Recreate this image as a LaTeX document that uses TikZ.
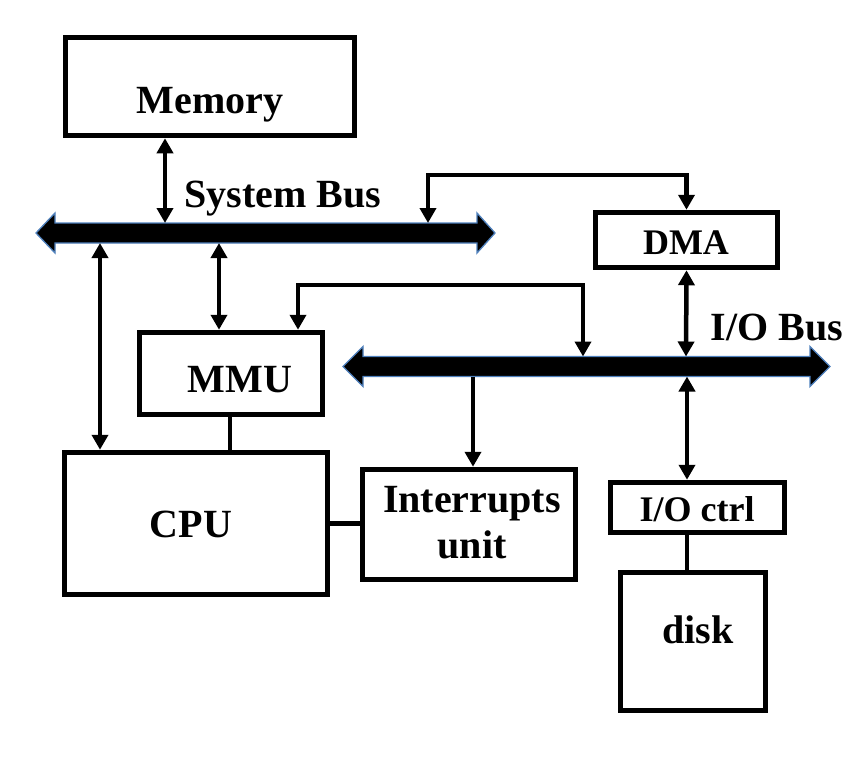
\documentclass[tikz,border=0pt]{standalone}
\usepackage{fontspec}
\setmainfont{Liberation Serif}
\usepackage{tikz}
\usetikzlibrary{arrows.meta,calc}
\definecolor{busedge}{HTML}{4F81BD}

\begin{document}
\begin{tikzpicture}[x=1pt,y=-1pt,
    box/.style={draw,line width=5.5pt,inner sep=0},
    lbl/.style={font=\fontsize{40}{44}\selectfont\bfseries,anchor=base,inner sep=0},
    small/.style={font=\fontsize{36}{40}\selectfont\bfseries,anchor=base,inner sep=0},
    link/.style={line width=4.5pt},
    onearrow/.style={link,-{Triangle[width=16pt,length=15pt]}},
    biarrow/.style={link,{Triangle[width=16pt,length=15pt]}-{Triangle[width=16pt,length=15pt]}},
    bus/.style={fill=black,draw=busedge,line width=1.3pt,line join=miter}]
  \useasboundingbox (0,0) rectangle (856,780);
  % buses
  \draw[bus] (36,233) -- (55,213) -- (55,223) -- (477,223) -- (477,213) -- (495,233)
    -- (477,253) -- (477,243) -- (55,243) -- (55,253) -- cycle;
  \draw[bus] (343,366.5) -- (363,346.5) -- (363,356.5) -- (810,356.5) -- (810,346.5) -- (830,366.5)
    -- (810,386.5) -- (810,376.5) -- (363,376.5) -- (363,386.5) -- cycle;
  \coordinate (sbmem) at (165,223);
  \coordinate (sbdma) at (428,223);
  \coordinate (sbcpu) at (100,243);
  \coordinate (sbmmu) at (219,243);
  \coordinate (ibmmu) at (583,356.5);
  \coordinate (ibdma) at (686,356.5);
  \coordinate (ibint) at (473,376.5);
  \coordinate (ibioc) at (687,376.5);
  \node[lbl] (sysbuslbl) at (283,207) {System Bus};
  \node[lbl] (iobuslbl) at (777,340) {I/O Bus};
  % units
  \node[box,minimum width=289pt,minimum height=98pt] (mem) at (210,86.5) {};
  \node[box,minimum width=182pt,minimum height=55pt] (dma) at (686.5,240) {};
  \node[box,minimum width=183pt,minimum height=82pt] (mmu) at (231,373.5) {};
  \node[box,minimum width=263pt,minimum height=142pt] (cpu) at (196,523.5) {};
  \node[box,minimum width=213pt,minimum height=110pt] (intr) at (469,524.5) {};
  \node[box,minimum width=174pt,minimum height=50pt] (ioc) at (697.5,507.5) {};
  \node[box,minimum width=145pt,minimum height=138pt] (disk) at (693,641.5) {};
  \node[lbl] at (210,113) {Memory};
  \node[small] at (686,254) {DMA};
  \node[lbl] at (240,392) {MMU};
  \node[lbl] at (191,537) {CPU};
  \node[lbl] at (472,512) {Interrupts};
  \node[lbl] at (472,558) {unit};
  \node[small] at (697,521) {I/O ctrl};
  \node[lbl] at (698,643) {disk};
  % connectors
  \draw[biarrow] (mem.south -| sbmem) -- (sbmem);
  \draw[biarrow] (sbcpu) -- (sbcpu |- cpu.north);
  \draw[biarrow] (sbmmu) -- (sbmmu |- mmu.north);
  \draw[biarrow] (sbdma) -- ++(0,-48) -| (dma.north);
  \draw[biarrow] (dma.south) -- (ibdma);
  \draw[biarrow] (mmu.north -| 298,0) -- ++(0,-45) -| (ibmmu);
  \draw[link] (mmu.south -| 230,0) -- (cpu.north -| 230,0);
  \draw[link] (cpu.east) -- (cpu.east -| intr.west);
  \draw[onearrow] (ibint) -- (ibint |- intr.north);
  \draw[biarrow] (ibioc) -- (ibioc |- ioc.north);
  \draw[link] (ioc.south -| 687,0) -- (disk.north -| 687,0);
\end{tikzpicture}
\end{document}
